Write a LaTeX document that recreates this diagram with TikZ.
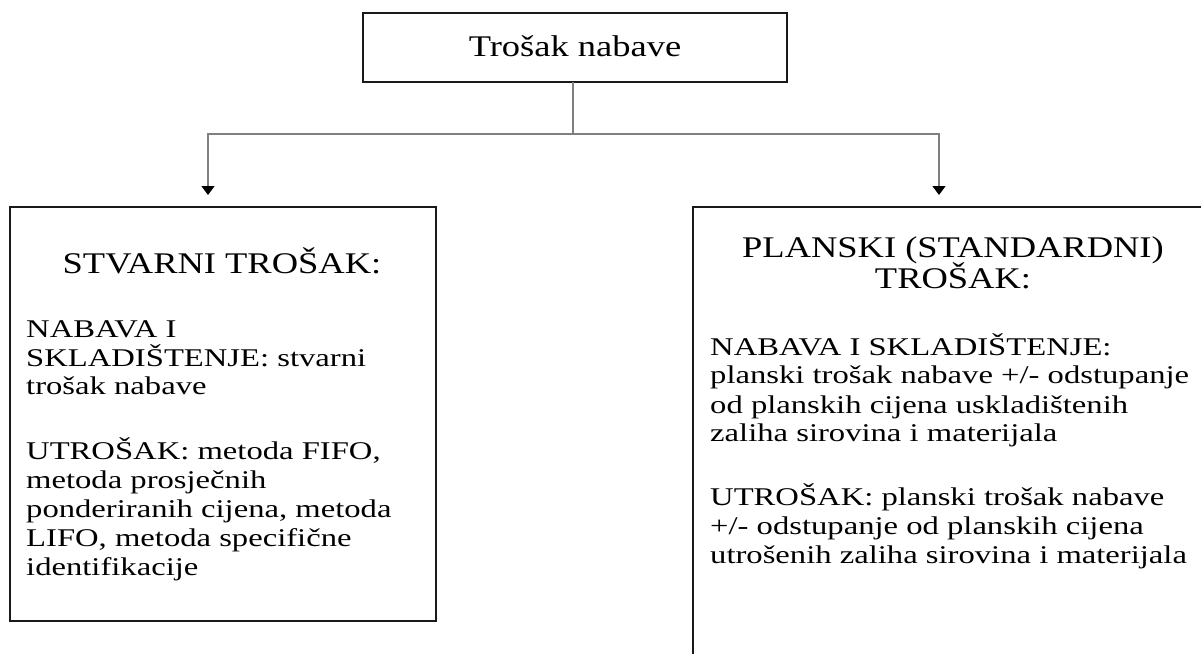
\documentclass[tikz,border=0pt]{standalone}
\usepackage{fontspec}
\setmainfont{Liberation Serif}[FakeStretch=1.28]
\newfontfamily\ttlfont{Liberation Serif}[FakeStretch=1.216]
\usetikzlibrary{arrows.meta}
\begin{document}
\begin{tikzpicture}[x=1pt,y=-1pt,
  box/.style={draw=black!90,line width=1.9pt,inner sep=0pt,outer sep=0pt},
  conn/.style={draw=black!50,line width=1.3pt},
  arr/.style={conn,-{Triangle[width=13pt,length=9pt,color=black]}},
  ttl/.style={font=\ttlfont\fontsize{30}{31}\selectfont,inner sep=0pt,anchor=base},
  body/.style={font=\fontsize{25.5}{29}\selectfont,inner sep=0pt,anchor=base west}]
\useasboundingbox (0,0) rectangle (1201,653);
\clip (0,0) rectangle (1201,653);
% boxes
\node[box,minimum width=424pt,minimum height=69pt] (top) at (575,47.5) {};
\node[box,minimum width=426pt,minimum height=414pt] (left) at (223,414) {};
\node[box,minimum width=522pt,minimum height=473pt] (right) at (954,443.5) {};
% top text
\node[ttl] (toptext) at (575,56.5) {Trošak nabave};
% connectors
\coordinate (j) at (573,134);
\coordinate (la) at (208,195);
\coordinate (ra) at (939,195);
\draw[conn] (j |- top.south) -- (j);
\draw[arr] (j) -| (la);
\draw[arr] (j) -| (ra);
% left box
\node[ttl] (lt) at (222,273) {STVARNI TROŠAK:};
\node[body] (l1) at (26,337) {NABAVA I};
\node[body] (l2) at (26,366) {SKLADIŠTENJE: stvarni};
\node[body] (l3) at (26,394) {trošak nabave};
\node[body] (l4) at (26,459) {UTROŠAK: metoda FIFO,};
\node[body] (l5) at (26,488) {metoda prosječnih};
\node[body] (l6) at (26,517) {ponderiranih cijena, metoda};
\node[body] (l7) at (26,546) {LIFO, metoda specifične};
\node[body] (l8) at (26,575) {identifikacije};
% right box
\node[ttl] (rt1) at (953,257) {PLANSKI (STANDARDNI)};
\node[ttl] (rt2) at (953,288) {TROŠAK:};
\node[body] (r1) at (710,355) {NABAVA I SKLADIŠTENJE:};
\node[body] (r2) at (710,383) {planski trošak nabave +/- odstupanje};
\node[body] (r3) at (710,413) {od planskih cijena uskladištenih};
\node[body] (r4) at (710,441) {zaliha sirovina i materijala};
\node[body] (r5) at (710,505) {UTROŠAK: planski trošak nabave};
\node[body] (r6) at (710,534) {+/- odstupanje od planskih cijena};
\node[body] (r7) at (710,563) {utrošenih zaliha sirovina i materijala};
\end{tikzpicture}
\end{document}
